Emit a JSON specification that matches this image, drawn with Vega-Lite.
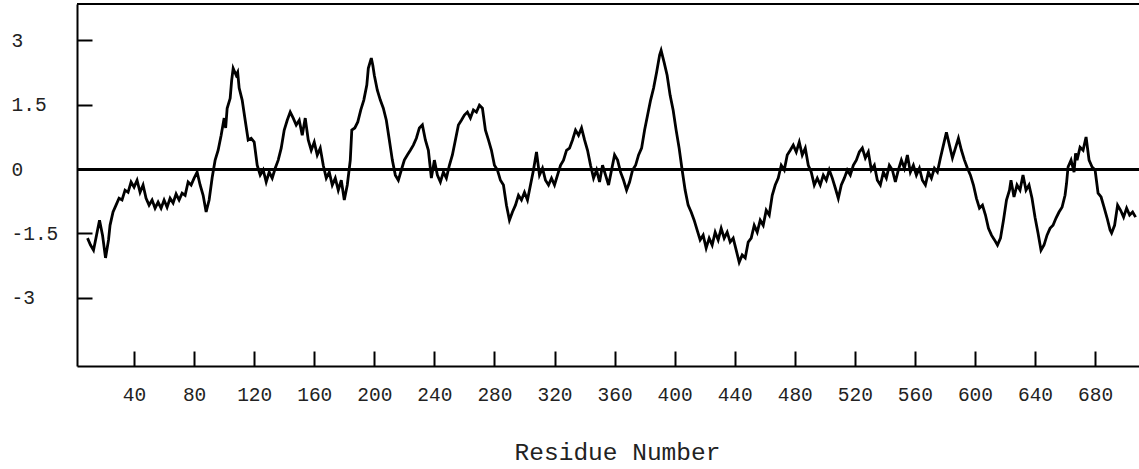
{
  "$schema": "https://vega.github.io/schema/vega-lite/v6.json",
  "width": 1062,
  "height": 362,
  "autosize": {"type": "none"},
  "padding": {"left": 77, "top": 4, "right": 0, "bottom": 103},
  "background": "white",
  "config": {"view": {"stroke": null}},
  "data": {"values": [
    {"r":9,"v":-1.61},{"r":11,"v":-1.77},{"r":13,"v":-1.89},{"r":15,"v":-1.54},{"r":17,"v":-1.19},{"r":19,"v":-1.54},{"r":21,"v":-2.07},{"r":23,"v":-1.65},{"r":24,"v":-1.31},{"r":26,"v":-1.0},{"r":28,"v":-0.84},{"r":30,"v":-0.68},{"r":32,"v":-0.72},{"r":34,"v":-0.49},{"r":36,"v":-0.54},{"r":38,"v":-0.30},{"r":40,"v":-0.42},{"r":42,"v":-0.26},{"r":44,"v":-0.54},{"r":46,"v":-0.37},{"r":48,"v":-0.68},{"r":50,"v":-0.84},{"r":52,"v":-0.72},{"r":54,"v":-0.91},{"r":56,"v":-0.77},{"r":58,"v":-0.91},{"r":60,"v":-0.72},{"r":62,"v":-0.89},{"r":64,"v":-0.68},{"r":66,"v":-0.79},{"r":68,"v":-0.58},{"r":70,"v":-0.72},{"r":72,"v":-0.56},{"r":74,"v":-0.61},{"r":76,"v":-0.30},{"r":78,"v":-0.37},{"r":80,"v":-0.21},{"r":82,"v":-0.07},{"r":84,"v":-0.37},{"r":86,"v":-0.61},{"r":88,"v":-1.0},{"r":90,"v":-0.72},{"r":92,"v":-0.2},{"r":94,"v":0.21},{"r":96,"v":0.44},{"r":98,"v":0.79},{"r":100,"v":1.19},{"r":101,"v":0.96},{"r":102,"v":1.42},{"r":104,"v":1.65},{"r":105,"v":2.07},{"r":106,"v":2.35},{"r":108,"v":2.19},{"r":109,"v":2.26},{"r":110,"v":1.89},{"r":112,"v":1.61},{"r":114,"v":1.14},{"r":116,"v":0.68},{"r":118,"v":0.72},{"r":120,"v":0.63},{"r":122,"v":0.09},{"r":124,"v":-0.14},{"r":126,"v":-0.02},{"r":128,"v":-0.3},{"r":130,"v":-0.07},{"r":132,"v":-0.21},{"r":134,"v":0.02},{"r":136,"v":0.21},{"r":138,"v":0.49},{"r":140,"v":0.91},{"r":142,"v":1.14},{"r":144,"v":1.33},{"r":146,"v":1.19},{"r":148,"v":1.03},{"r":150,"v":1.14},{"r":152,"v":0.79},{"r":154,"v":1.19},{"r":156,"v":0.68},{"r":158,"v":0.44},{"r":160,"v":0.63},{"r":162,"v":0.33},{"r":164,"v":0.49},{"r":166,"v":0.09},{"r":168,"v":-0.21},{"r":170,"v":-0.07},{"r":172,"v":-0.37},{"r":174,"v":-0.21},{"r":176,"v":-0.49},{"r":178,"v":-0.26},{"r":180,"v":-0.72},{"r":182,"v":-0.37},{"r":184,"v":0.21},{"r":185,"v":0.91},{"r":187,"v":0.96},{"r":189,"v":1.10},{"r":191,"v":1.38},{"r":193,"v":1.61},{"r":195,"v":1.96},{"r":196,"v":2.35},{"r":198,"v":2.59},{"r":199,"v":2.42},{"r":200,"v":2.19},{"r":202,"v":1.84},{"r":204,"v":1.61},{"r":206,"v":1.42},{"r":208,"v":1.14},{"r":210,"v":0.68},{"r":212,"v":0.21},{"r":214,"v":-0.14},{"r":216,"v":-0.26},{"r":218,"v":-0.02},{"r":220,"v":0.21},{"r":222,"v":0.33},{"r":224,"v":0.44},{"r":226,"v":0.56},{"r":228,"v":0.72},{"r":230,"v":0.96},{"r":232,"v":1.03},{"r":234,"v":0.68},{"r":236,"v":0.44},{"r":238,"v":-0.21},{"r":240,"v":0.21},{"r":242,"v":-0.14},{"r":244,"v":-0.3},{"r":246,"v":-0.07},{"r":248,"v":-0.21},{"r":250,"v":0.09},{"r":252,"v":0.33},{"r":254,"v":0.68},{"r":256,"v":1.03},{"r":258,"v":1.14},{"r":260,"v":1.26},{"r":262,"v":1.33},{"r":264,"v":1.19},{"r":266,"v":1.38},{"r":268,"v":1.33},{"r":270,"v":1.49},{"r":272,"v":1.42},{"r":274,"v":0.91},{"r":276,"v":0.68},{"r":278,"v":0.44},{"r":280,"v":0.09},{"r":282,"v":-0.02},{"r":284,"v":-0.26},{"r":286,"v":-0.37},{"r":288,"v":-0.84},{"r":290,"v":-1.19},{"r":292,"v":-1.0},{"r":294,"v":-0.84},{"r":296,"v":-0.61},{"r":298,"v":-0.72},{"r":300,"v":-0.54},{"r":302,"v":-0.72},{"r":304,"v":-0.37},{"r":306,"v":-0.02},{"r":308,"v":0.40},{"r":310,"v":-0.14},{"r":312,"v":0.02},{"r":314,"v":-0.26},{"r":316,"v":-0.37},{"r":318,"v":-0.21},{"r":320,"v":-0.37},{"r":322,"v":-0.14},{"r":324,"v":0.09},{"r":326,"v":0.21},{"r":328,"v":0.44},{"r":330,"v":0.49},{"r":332,"v":0.68},{"r":334,"v":0.91},{"r":336,"v":0.79},{"r":338,"v":0.96},{"r":340,"v":0.68},{"r":342,"v":0.44},{"r":344,"v":0.09},{"r":346,"v":-0.21},{"r":348,"v":-0.02},{"r":350,"v":-0.3},{"r":352,"v":0.09},{"r":354,"v":-0.14},{"r":356,"v":-0.37},{"r":358,"v":-0.02},{"r":360,"v":0.33},{"r":362,"v":0.21},{"r":364,"v":-0.07},{"r":366,"v":-0.26},{"r":368,"v":-0.49},{"r":370,"v":-0.3},{"r":372,"v":-0.02},{"r":374,"v":0.09},{"r":376,"v":0.33},{"r":378,"v":0.49},{"r":380,"v":0.91},{"r":382,"v":1.26},{"r":384,"v":1.61},{"r":386,"v":1.89},{"r":388,"v":2.26},{"r":390,"v":2.66},{"r":391,"v":2.77},{"r":393,"v":2.49},{"r":395,"v":2.19},{"r":397,"v":1.72},{"r":399,"v":1.38},{"r":401,"v":0.91},{"r":403,"v":0.49},{"r":405,"v":-0.02},{"r":407,"v":-0.49},{"r":409,"v":-0.84},{"r":411,"v":-1.0},{"r":413,"v":-1.19},{"r":415,"v":-1.42},{"r":417,"v":-1.65},{"r":419,"v":-1.54},{"r":421,"v":-1.84},{"r":423,"v":-1.61},{"r":425,"v":-1.77},{"r":427,"v":-1.47},{"r":429,"v":-1.65},{"r":431,"v":-1.38},{"r":433,"v":-1.61},{"r":435,"v":-1.47},{"r":437,"v":-1.70},{"r":439,"v":-1.61},{"r":441,"v":-1.89},{"r":443,"v":-2.17},{"r":445,"v":-2.0},{"r":447,"v":-2.07},{"r":449,"v":-1.70},{"r":451,"v":-1.61},{"r":453,"v":-1.31},{"r":455,"v":-1.47},{"r":457,"v":-1.19},{"r":459,"v":-1.31},{"r":461,"v":-0.96},{"r":463,"v":-1.07},{"r":465,"v":-0.61},{"r":467,"v":-0.37},{"r":469,"v":-0.21},{"r":471,"v":0.09},{"r":473,"v":-0.02},{"r":475,"v":0.33},{"r":477,"v":0.44},{"r":479,"v":0.56},{"r":481,"v":0.40},{"r":483,"v":0.63},{"r":485,"v":0.33},{"r":487,"v":0.49},{"r":489,"v":0.09},{"r":491,"v":-0.07},{"r":493,"v":-0.37},{"r":495,"v":-0.21},{"r":497,"v":-0.37},{"r":499,"v":-0.14},{"r":501,"v":-0.26},{"r":503,"v":-0.02},{"r":505,"v":-0.21},{"r":507,"v":-0.44},{"r":509,"v":-0.68},{"r":511,"v":-0.37},{"r":513,"v":-0.21},{"r":515,"v":-0.02},{"r":517,"v":-0.14},{"r":519,"v":0.09},{"r":521,"v":0.21},{"r":523,"v":0.40},{"r":525,"v":0.49},{"r":527,"v":0.26},{"r":529,"v":0.40},{"r":531,"v":-0.02},{"r":533,"v":0.09},{"r":535,"v":-0.26},{"r":537,"v":-0.37},{"r":539,"v":-0.07},{"r":541,"v":-0.21},{"r":543,"v":0.09},{"r":545,"v":-0.02},{"r":547,"v":-0.3},{"r":549,"v":-0.02},{"r":551,"v":0.21},{"r":553,"v":0.02},{"r":555,"v":0.33},{"r":557,"v":-0.07},{"r":559,"v":0.09},{"r":561,"v":-0.14},{"r":563,"v":0.02},{"r":565,"v":-0.26},{"r":567,"v":-0.37},{"r":569,"v":-0.07},{"r":571,"v":-0.21},{"r":573,"v":0.02},{"r":575,"v":-0.07},{"r":577,"v":0.26},{"r":579,"v":0.56},{"r":581,"v":0.86},{"r":583,"v":0.56},{"r":585,"v":0.26},{"r":587,"v":0.49},{"r":589,"v":0.72},{"r":591,"v":0.44},{"r":593,"v":0.21},{"r":595,"v":0.02},{"r":597,"v":-0.14},{"r":599,"v":-0.37},{"r":601,"v":-0.68},{"r":603,"v":-0.91},{"r":605,"v":-0.84},{"r":607,"v":-1.07},{"r":609,"v":-1.38},{"r":611,"v":-1.54},{"r":613,"v":-1.65},{"r":615,"v":-1.77},{"r":617,"v":-1.61},{"r":619,"v":-1.19},{"r":621,"v":-0.72},{"r":623,"v":-0.49},{"r":624,"v":-0.26},{"r":626,"v":-0.65},{"r":628,"v":-0.37},{"r":630,"v":-0.49},{"r":632,"v":-0.14},{"r":634,"v":-0.49},{"r":636,"v":-0.37},{"r":638,"v":-0.68},{"r":640,"v":-1.12},{"r":642,"v":-1.49},{"r":644,"v":-1.89},{"r":646,"v":-1.77},{"r":648,"v":-1.54},{"r":650,"v":-1.38},{"r":652,"v":-1.31},{"r":654,"v":-1.14},{"r":656,"v":-1.0},{"r":658,"v":-0.89},{"r":660,"v":-0.61},{"r":661,"v":-0.33},{"r":662,"v":0.05},{"r":664,"v":0.21},{"r":666,"v":-0.07},{"r":667,"v":0.37},{"r":668,"v":0.21},{"r":670,"v":0.51},{"r":672,"v":0.44},{"r":674,"v":0.75},{"r":676,"v":0.21},{"r":678,"v":0.05},{"r":680,"v":-0.02},{"r":682,"v":-0.56},{"r":684,"v":-0.65},{"r":686,"v":-0.89},{"r":688,"v":-1.14},{"r":690,"v":-1.42},{"r":691,"v":-1.49},{"r":693,"v":-1.31},{"r":695,"v":-0.84},{"r":697,"v":-0.96},{"r":699,"v":-1.12},{"r":701,"v":-0.91},{"r":703,"v":-1.07},{"r":705,"v":-1.0},{"r":707,"v":-1.12}
  ]},
  "layer": [
    {
      "mark": {"type": "line", "color": "black", "strokeWidth": 2.8, "strokeJoin": "miter"},
      "encoding": {
        "x": {
          "field": "r", "type": "quantitative",
          "scale": {"domain": [2, 709.25], "nice": false, "zero": false},
          "axis": {
            "orient": "bottom",
            "values": [40, 80, 120, 160, 200, 240, 280, 320, 360, 400, 440, 480, 520, 560, 600, 640, 680],
            "grid": false,
            "domainColor": "black", "domainWidth": 2,
            "tickColor": "black", "tickWidth": 2, "tickSize": -15,
            "labelFont": "Liberation Mono", "labelFontSize": 19.5, "labelColor": "#222",
            "labelPadding": 34, "labelBaseline": "top", "labelFlush": false,
            "title": "Residue Number",
            "titleFont": "Liberation Mono", "titleFontSize": 24.5, "titleFontWeight": "normal", "titleColor": "#222",
            "titleAlign": "center", "titleBaseline": "alphabetic",
            "titleX": 540, "titleY": 93
          }
        },
        "y": {
          "field": "v", "type": "quantitative",
          "scale": {"domain": [-4.59, 3.85], "nice": false, "zero": false},
          "axis": {
            "values": [-3, -1.5, 0, 1.5, 3],
            "labelExpr": "'' + datum.value",
            "grid": false,
            "domainColor": "black", "domainWidth": 2,
            "tickColor": "black", "tickWidth": 2, "tickSize": -15,
            "labelFont": "Liberation Mono", "labelFontSize": 19.5, "labelColor": "#222",
            "labelAlign": "left", "labelPadding": 81, "labelFlush": false,
            "title": null
          }
        }
      }
    },
    {
      "mark": {"type": "rule", "color": "black", "strokeWidth": 2},
      "encoding": {"y": {"datum": 0}}
    },
    {
      "mark": {"type": "rule", "color": "black", "strokeWidth": 2},
      "encoding": {"y": {"datum": 3.85}}
    }
  ]
}
